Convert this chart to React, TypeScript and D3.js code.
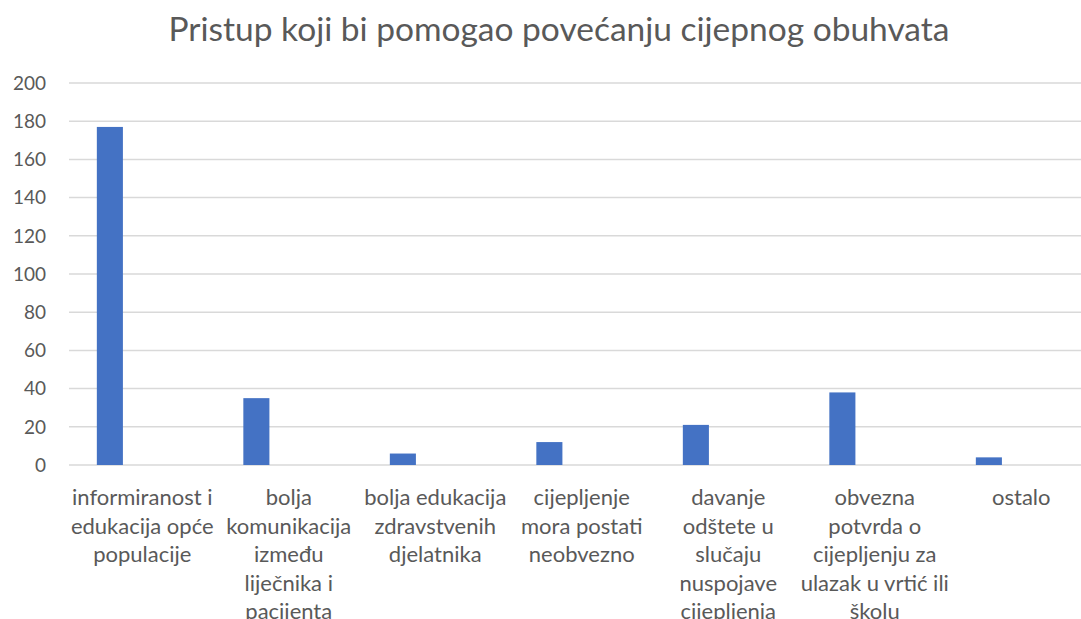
import React, { useEffect, useRef } from 'react';
import * as d3 from 'd3';

const title = 'Pristup koji bi pomogao povećanju cijepnog obuhvata';

const categories = [
  ['informiranost i', 'edukacija opće', 'populacije'],
  ['bolja', 'komunikacija', 'između', 'liječnika i', 'pacijenta'],
  ['bolja edukacija', 'zdravstvenih', 'djelatnika'],
  ['cijepljenje', 'mora postati', 'neobvezno'],
  ['davanje', 'odštete u', 'slučaju', 'nuspojave', 'cijepljenja'],
  ['obvezna', 'potvrda o', 'cijepljenju za', 'ulazak u vrtić ili', 'školu'],
  ['ostalo'],
];

const values = [177, 35, 6, 12, 21, 38, 4];

const yTicks = [0, 20, 40, 60, 80, 100, 120, 140, 160, 180, 200];

function App() {
  const ref = useRef<SVGSVGElement>(null);

  useEffect(() => {
    const svg = d3.select(ref.current);
    svg.selectAll('*').remove();
    const width = 1081;
    const left = 69;
    const top = 83;
    const bottom = 465;
    const band = 146.5;
    const font = 'Lato, "Open Sans", sans-serif';

    const x = d3.scaleBand<number>()
      .domain(categories.map((d, i) => i))
      .range([left, left + band * categories.length])
      .padding(0);

    const y = d3.scaleLinear()
      .domain([0, 200])
      .range([bottom, top]);

    svg.append('text')
      .attr('x', 559)
      .attr('y', 41)
      .attr('text-anchor', 'middle')
      .attr('font-family', font)
      .attr('font-size', 33.5)
      .attr('fill', '#595959')
      .text(title);

    // gridlines
    svg.append('g')
      .selectAll('line')
      .data(yTicks)
      .enter().append('line')
      .attr('x1', left)
      .attr('x2', width)
      .attr('y1', (d) => y(d))
      .attr('y2', (d) => y(d))
      .attr('stroke', '#d9d9d9')
      .attr('stroke-width', 1.5);

    svg.append('g')
      .selectAll('text')
      .data(yTicks)
      .enter().append('text')
      .attr('x', 46)
      .attr('y', (d) => y(d))
      .attr('dy', '0.36em')
      .attr('text-anchor', 'end')
      .attr('font-family', font)
      .attr('font-size', 19)
      .attr('fill', '#595959')
      .text((d) => d);

    const bw = x.bandwidth();
    svg.append('g')
      .selectAll('rect')
      .data(values)
      .enter().append('rect')
      .attr('x', (d, i) => (x(i) as number) + bw * 0.19)
      .attr('width', bw * 0.178)
      .attr('y', (d) => y(d))
      .attr('height', (d) => bottom - y(d))
      .attr('fill', '#4472c4');

    const labels = svg.append('g')
      .selectAll('text')
      .data(categories)
      .enter().append('text')
      .attr('x', (d, i) => (x(i) as number) + bw / 2)
      .attr('y', 505)
      .attr('text-anchor', 'middle')
      .attr('font-family', font)
      .attr('font-size', 22)
      .attr('fill', '#595959');

    labels.selectAll('tspan')
      .data((d) => d)
      .enter().append('tspan')
      .attr('x', function () {
        return (this.parentNode as SVGTextElement).getAttribute('x');
      })
      .attr('dy', (d, i) => (i === 0 ? 0 : 28.5))
      .text((d) => d);
  }, []);

  return (
    <svg
      ref={ref}
      width="1081"
      height="619"
      style={{ position: 'absolute', left: 0, top: 0, background: '#fff' }}
    />
  );
}

export default App;
